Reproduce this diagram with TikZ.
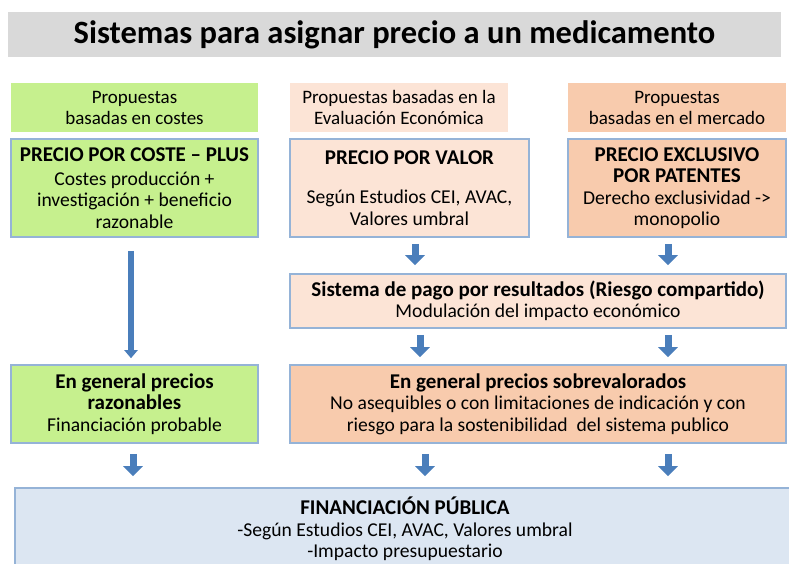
\documentclass[tikz,border=0pt]{standalone}
\usepackage{fontspec}
\setmainfont{Carlito}
\usetikzlibrary{arrows.meta}
\definecolor{titlegray}{HTML}{D9D9D9}
\definecolor{lgreen}{HTML}{C6F08E}
\definecolor{lpeach}{HTML}{FCE4D6}
\definecolor{lorange}{HTML}{F8CBAD}
\definecolor{bordblue}{HTML}{95B3D7}
\definecolor{lblue}{HTML}{DCE6F2}
\definecolor{arrblue}{HTML}{4A7EBB}
\tikzset{
  box/.style={draw=bordblue, line width=1.6pt, inner sep=0pt, align=center, font=\fontsize{19.6}{21.5}\selectfont},
  hdr/.style={draw=none, inner sep=0pt, align=center, font=\fontsize{19}{21}\selectfont},
  blk/.style={draw=arrblue, line width=7pt, -{Triangle[width=19pt,length=10pt]}},
  longblk/.style={draw=arrblue, line width=5.5pt, -{Triangle[width=13pt,length=8pt]}}
}
\newcommand{\bt}[1]{{\bfseries\fontsize{21}{23}\selectfont #1}}
\begin{document}
\begin{tikzpicture}[x=1pt,y=-1pt]
\useasboundingbox (0,0) rectangle (789,563);
% title
\node[fill=titlegray, minimum width=773pt, minimum height=45pt, inner sep=0pt,
  font=\bfseries\fontsize{32.5}{34}\selectfont] (title) at (394.5,34.5) {Sistemas para asignar precio a un medicamento};
% headers
\node[hdr, fill=lgreen, minimum width=247pt, minimum height=49pt] (h1) at (134.5,107.5) {Propuestas\\basadas en costes};
\node[hdr, fill=lpeach, minimum width=218pt, minimum height=49pt] (h2) at (399,107.5) {Propuestas basadas en la\\Evaluación Económica};
\node[hdr, fill=lorange, minimum width=218pt, minimum height=49pt] (h3) at (677,107.5) {Propuestas\\basadas en el mercado};
% row 2
\node[box, fill=lgreen, minimum width=247pt, minimum height=98pt] (b1) at (134.5,188) {\bt{PRECIO POR COSTE – PLUS}\\[2pt]Costes producción +\\investigación + beneficio\\razonable};
\node[box, fill=lpeach, minimum width=239pt, minimum height=98pt] (b2) at (409.5,188) {\bt{PRECIO POR VALOR}\\[18pt]Según Estudios CEI, AVAC,\\Valores umbral};
\node[box, fill=lorange, minimum width=218pt, minimum height=98pt] (b3) at (677,188) {\bt{PRECIO EXCLUSIVO}\\\bt{POR PATENTES}\\Derecho exclusividad ->\\monopolio};
% riesgo
\node[box, fill=lpeach, minimum width=496pt, minimum height=54pt] (r) at (538,301) {\bt{Sistema de pago por resultados (Riesgo compartido)}\\Modulación del impacto económico};
% row 4
\node[box, fill=lgreen, minimum width=247pt, minimum height=78pt] (c1) at (134.5,404) {\bt{En general precios}\\\bt{razonables}\\Financiación probable};
\node[box, fill=lorange, minimum width=496pt, minimum height=78pt] (c2) at (538,404) {\bt{En general precios sobrevalorados}\\No asequibles o con limitaciones de indicación y con\\riesgo para la sostenibilidad\ \ del sistema publico};
% bottom
\node[box, fill=lblue, minimum width=780pt, minimum height=82pt] (f) at (405,529) {\bt{FINANCIACIÓN PÚBLICA}\\-Según Estudios CEI, AVAC, Valores umbral\\-Impacto presupuestario};
% arrow x positions
\coordinate (xl) at (131,0);
\coordinate (xm1) at (415,0);
\coordinate (xm2) at (420,0);
\coordinate (xm3) at (425,0);
\coordinate (xr) at (668,0);
\coordinate (xl2) at (133,0);
% arrows
\draw[longblk, shorten <=13pt, shorten >=6pt] (b1.south -| xl) -- (c1.north -| xl);
\draw[blk, shorten <=6pt, shorten >=8pt] (b2.south -| xm1) -- (r.north -| xm1);
\draw[blk, shorten <=6pt, shorten >=8pt] (b3.south -| xr) -- (r.north -| xr);
\draw[blk, shorten <=6pt, shorten >=7pt] (r.south -| xm2) -- (c2.north -| xm2);
\draw[blk, shorten <=6pt, shorten >=7pt] (r.south -| xr) -- (c2.north -| xr);
\draw[blk, shorten <=10pt, shorten >=11pt] (c1.south -| xl2) -- (f.north -| xl2);
\draw[blk, shorten <=10pt, shorten >=11pt] (c2.south -| xm3) -- (f.north -| xm3);
\draw[blk, shorten <=10pt, shorten >=11pt] (c2.south -| xr) -- (f.north -| xr);
\end{tikzpicture}
\end{document}
